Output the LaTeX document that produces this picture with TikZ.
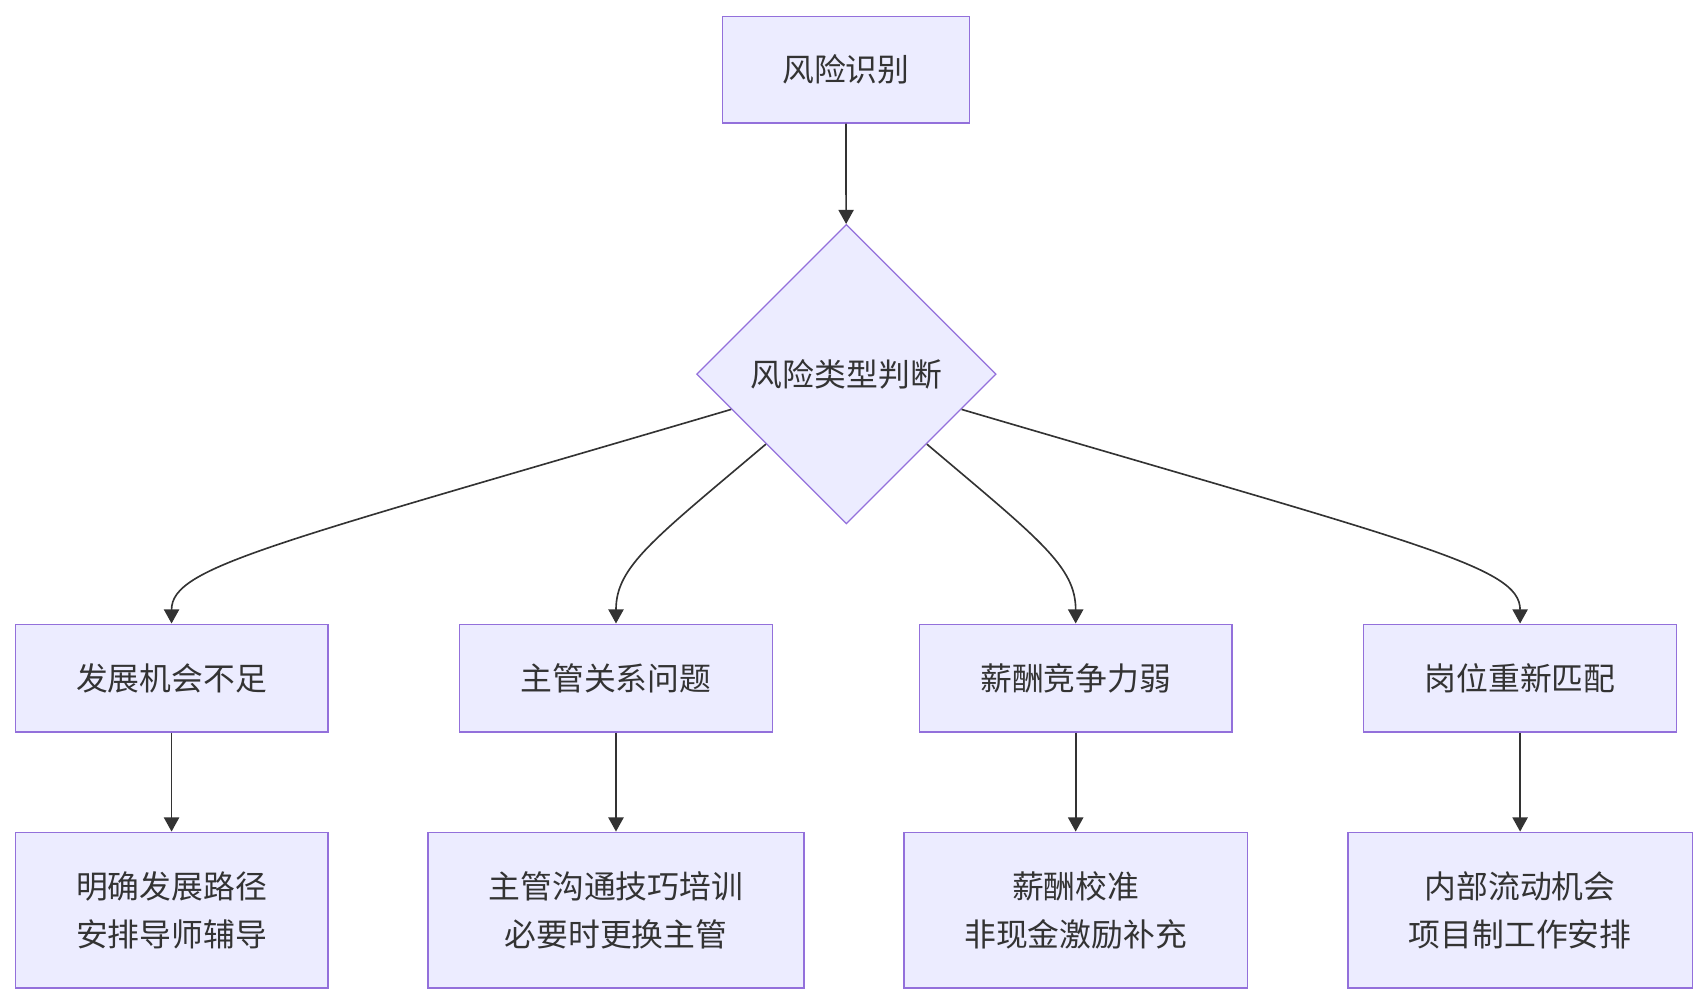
\documentclass[tikz,border=0pt]{standalone}
\usepackage{fontspec}
\setmainfont{Noto Sans CJK SC}
\usetikzlibrary{shapes.geometric,calc,arrows.meta,positioning}
\definecolor{boxfill}{HTML}{ECECFF}
\definecolor{boxline}{HTML}{9370DB}
\definecolor{ink}{HTML}{333333}

\begin{document}
\begin{tikzpicture}[x=0.5pt, y=-0.5pt,
  font=\fontsize{14.6}{22}\selectfont, text=ink,
  box/.style={draw=boxline, fill=boxfill, line width=0.6pt, align=center, inner sep=0pt},
  decide/.style={box, diamond, minimum width=137.5pt, minimum height=137.5pt},
  link/.style={draw=ink, line width=0.75pt, -{Triangle[length=6.5pt, width=7pt]}}]
\useasboundingbox (0,0) rectangle (1568,922);
\node[box, minimum width=113.5pt, minimum height=49pt] (shibie) at (776.5,64) {风险识别};
\node[decide] (panduan) at (777,343.5) {风险类型判断};
\foreach \n/\x/\t in {fazhan/157.5/发展机会不足, zhuguan/565.5/主管关系问题, xinchou/987.5/薪酬竞争力弱, gangwei/1395.5/岗位重新匹配} {
    \node[box, minimum width=143.5pt, minimum height=49.5pt] (\n) at (\x,622.5) {\t};
}
\foreach \n/\x/\w/\t in {lujing/157.5/143.5/明确发展路径\\安排导师辅导, goutong/565.5/172.5/主管沟通技巧培训\\必要时更换主管, jiaozhun/987.5/157.5/薪酬校准\\非现金激励补充, liudong/1395.5/158/内部流动机会\\项目制工作安排} {
    \node[box, minimum width=\w pt, minimum height=71.5pt] (\n) at (\x,835.5) {\t};
}
\draw[link] (shibie) -- (panduan);
\draw[link] (panduan.197) .. controls (250,500) and (157.5,520) .. (fazhan.north);
\draw[link] (panduan.221) .. controls (600,495) and (565.5,520) .. (zhuguan.north);
\draw[link] (panduan.319) .. controls (954,495) and (987.5,520) .. (xinchou.north);
\draw[link] (panduan.343) .. controls (1305,500) and (1395.5,520) .. (gangwei.north);
\foreach \a/\b in {fazhan/lujing, zhuguan/goutong, xinchou/jiaozhun, gangwei/liudong} {
    \draw[link] (\a) -- (\b);
}
\end{tikzpicture}
\end{document}
